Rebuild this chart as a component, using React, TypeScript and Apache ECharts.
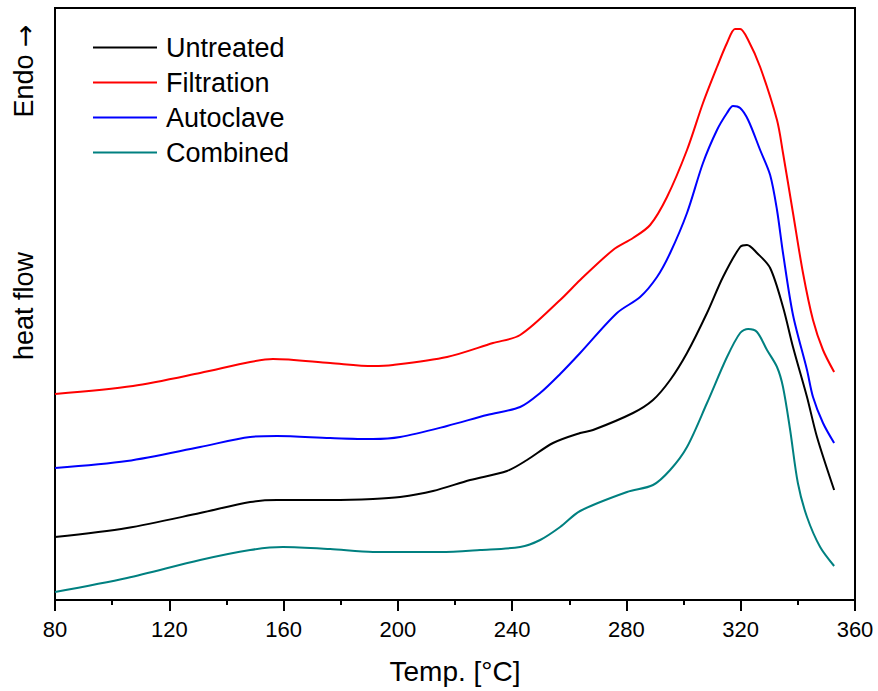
import React, { useEffect, useRef } from "react";
import * as echarts from "echarts";

const xTicks = [80, 120, 160, 200, 240, 280, 320, 360];

const untreatedT = [80, 105.2, 130.8, 148.3, 157.7, 176.3, 191.3, 200.8, 212.3, 225.3, 238.2, 245.2, 254.3, 263.8, 268.3, 282.3, 289.3, 295.3, 301.2, 308.2, 313.8, 319.8, 322.2, 325.7, 330.3, 334.8, 338.3, 343.2, 346.7, 352.7];
const untreatedV = [63, 72, 87, 98, 100, 100, 101, 103, 109, 120, 129, 140, 157, 167, 170, 187, 200, 220, 247, 287, 323, 353, 355, 347, 332, 293, 253, 203, 163, 110];

const filtrationT = [80, 107.3, 130.8, 148.3, 156.3, 176.3, 191.3, 198.3, 217.2, 233.3, 242.8, 256.8, 263.8, 275.3, 282.3, 288.3, 294.2, 301.2, 306.8, 311.7, 315.2, 318, 319.8, 322.6, 326.8, 332.7, 334.8, 338.3, 341.8, 345.3, 348.8, 352.7];
const filtrationV = [206, 214, 227, 238, 241, 237, 234, 235, 243, 257, 265, 300, 320, 350, 362, 375, 403, 450, 497, 533, 557, 571, 571, 560, 533, 480, 447, 387, 327, 280, 250, 228];

const autoclaveT = [80, 105.2, 130.8, 148.3, 157.7, 176.3, 191.3, 200.8, 217.2, 231.2, 242.8, 249.8, 256.8, 263.8, 276.7, 284.8, 290.7, 295.3, 301.2, 306.8, 311.7, 315.2, 317.3, 319.8, 322.6, 326.8, 330.3, 332.7, 334.8, 338.3, 343.2, 345.3, 348.8, 352.7];
const autoclaveV = [132, 139, 153, 163, 164, 162, 161, 163, 174, 185, 193, 207, 226, 247, 287, 303, 323, 347, 387, 437, 470, 487, 494, 492, 480, 450, 425, 390, 347, 285, 230, 203, 177, 157];

const combinedT = [80, 105.2, 130.8, 148.3, 159.8, 176.3, 191.3, 214.8, 228.8, 242.8, 249.8, 256.8, 263.8, 280.2, 289.3, 295.3, 301.2, 308.2, 315.2, 319.8, 322.6, 325.7, 329.2, 332.7, 334.8, 337.3, 340, 343.2, 347.8, 352.7];
const combinedV = [8, 22, 40, 50, 53, 51, 48, 48, 50, 53, 60, 73, 89, 108, 115, 130, 153, 197, 243, 267, 271, 268, 250, 233, 213, 170, 117, 83, 53, 34];

const seriesNames = ["Untreated", "Filtration", "Autoclave", "Combined"];
const seriesColors = ["#000000", "#ff0000", "#0000ff", "#008080"];

const pair = (t: number[], v: number[]) => t.map((x, i) => [x, v[i]]);

const FONT = "'Liberation Sans', Arial, sans-serif";

export default function App() {
  const ref = useRef<HTMLDivElement>(null);
  useEffect(() => {
    if (!ref.current) return;
    const chart = echarts.init(ref.current, undefined, { renderer: "svg" });
    const datasets = [
      pair(untreatedT, untreatedV),
      pair(filtrationT, filtrationV),
      pair(autoclaveT, autoclaveV),
      pair(combinedT, combinedV),
    ];
    chart.setOption({
      animation: false,
      backgroundColor: "#ffffff",
      textStyle: { fontFamily: FONT },
      grid: {
        left: 55,
        right: 23,
        top: 8,
        bottom: 91,
        show: true,
        borderColor: "#000",
        borderWidth: 2,
        backgroundColor: "transparent",
      },
      legend: {
        orient: "vertical",
        left: 93,
        top: 30,
        padding: 0,
        itemGap: 0,
        itemWidth: 64,
        itemHeight: 14,
        data: seriesNames.map((n, i) => ({
          name: n,
          icon: "path://M0,6.5 L64,6.5 L64,8.5 L0,8.5 Z",
          itemStyle: { color: seriesColors[i] },
        })),
        textStyle: {
          fontSize: 27,
          fontFamily: FONT,
          color: "#000",
          lineHeight: 35,
          padding: [0, 0, 0, 4],
        },
      },
      xAxis: {
        type: "value",
        min: 80,
        max: 360,
        interval: 40,
        name: "Temp. [°C]",
        nameLocation: "middle",
        nameGap: 57,
        nameTextStyle: { fontSize: 28, fontFamily: FONT, color: "#000" },
        axisLine: { show: true, onZero: false, lineStyle: { color: "#000", width: 2 } },
        axisTick: { show: true, inside: false, length: 11, lineStyle: { color: "#000", width: 2 } },
        minorTick: { show: true, splitNumber: 2, length: 5, lineStyle: { color: "#000", width: 2 } },
        axisLabel: { fontSize: 22, fontFamily: FONT, color: "#000", margin: 18, customValues: xTicks },
        splitLine: { show: false },
        minorSplitLine: { show: false },
      },
      yAxis: {
        type: "value",
        min: 0,
        max: 592,
        axisLine: { show: true, lineStyle: { color: "#000", width: 2 } },
        axisTick: { show: false },
        axisLabel: { show: false },
        splitLine: { show: false },
      },
      graphic: [
        {
          type: "text",
          x: 24,
          y: 71,
          rotation: Math.PI / 2,
          style: {
            text: "{a|Endo }{b|→}",
            align: "center",
            verticalAlign: "middle",
            rich: {
              a: { fontSize: 27, fontFamily: FONT, fill: "#000", color: "#000" },
              b: { fontSize: 27, fontFamily: "'DejaVu Sans', sans-serif", fill: "#000", color: "#000" },
            },
          },
        },
        {
          type: "text",
          x: 24,
          y: 306,
          rotation: Math.PI / 2,
          style: {
            text: "heat flow",
            fontSize: 27,
            fontFamily: FONT,
            fill: "#000",
            align: "center",
            verticalAlign: "middle",
          },
        },
      ],
      series: seriesNames.map((n, i) => ({
        name: n,
        type: "line",
        data: datasets[i],
        showSymbol: false,
        symbol: "none",
        smooth: 0.3,
        lineStyle: { color: seriesColors[i], width: 2 },
        itemStyle: { color: seriesColors[i] },
      })),
    });
    return () => chart.dispose();
  }, []);
  return <div ref={ref} style={{ width: 878, height: 691, position: "absolute", left: 0, top: 0 }} />;
}
